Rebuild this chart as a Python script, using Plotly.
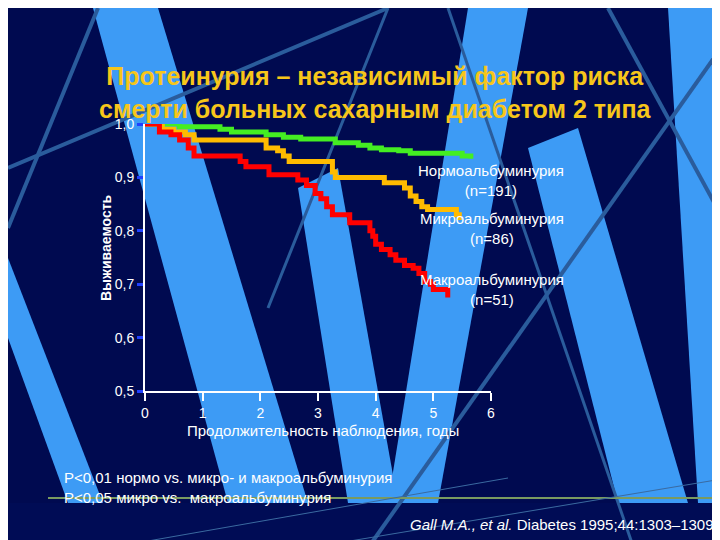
import plotly.graph_objects as go

# Kaplan-Meier curves
norm_x = [0, 0.45, 0.6, 1.15, 1.3, 1.5, 2.1, 2.4, 2.7, 3.3, 3.7, 3.9, 4.1, 4.4, 4.6, 5.3, 5.5, 5.65]
norm_y = [1.0, 1.0, 0.995, 0.995, 0.99, 0.985, 0.98, 0.975, 0.972, 0.965, 0.96, 0.955, 0.952, 0.95, 0.945, 0.945, 0.94, 0.935]

micro_x = [0, 0.25, 0.3, 0.5, 0.7, 0.85, 2.05, 2.1, 2.3, 2.4, 2.5, 3.2, 3.25, 3.3, 4.1, 4.15, 4.45, 4.5, 4.6, 4.7, 4.8, 4.9, 5.35, 5.4, 5.45]
micro_y = [1.0, 1.0, 0.99, 0.985, 0.98, 0.97, 0.97, 0.955, 0.95, 0.94, 0.93, 0.93, 0.91, 0.9, 0.9, 0.89, 0.89, 0.88, 0.865, 0.855, 0.845, 0.84, 0.84, 0.83, 0.82]

macro_x = [0, 0.2, 0.25, 0.45, 0.6, 0.75, 0.85, 1.6, 1.65, 1.75, 2.1, 2.15, 2.6, 2.65, 2.8, 2.95, 3.05, 3.15, 3.25, 3.5, 3.55,
           3.85, 3.9, 3.95, 4.0, 4.1, 4.25, 4.35, 4.5, 4.65, 4.75, 4.85, 4.95, 5.0, 5.2, 5.25]
macro_y = [1.0, 1.0, 0.985, 0.98, 0.97, 0.955, 0.94, 0.94, 0.93, 0.92, 0.92, 0.905, 0.905, 0.895, 0.885, 0.87, 0.86, 0.845, 0.83, 0.83, 0.815,
           0.815, 0.8, 0.79, 0.775, 0.765, 0.755, 0.745, 0.735, 0.73, 0.72, 0.705, 0.7, 0.69, 0.69, 0.675]

y_ticks = [0.5, 0.6, 0.7, 0.8, 0.9, 1.0]
y_labels = ["0,5", "0,6", "0,7", "0,8", "0,9", "1,0"]
x_ticks = [0, 1, 2, 3, 4, 5, 6]

series_labels = ["Нормоальбуминурия<br>(n=191)", "Микроальбуминурия<br>(n=86)", "Макроальбуминурия<br>(n=51)"]

W, H = 720, 540
L, R, T, B = 137, 237, 116, 157


def px(x, y):
    # pixel -> paper coords for layout
    return (x - L) / (W - L - R), 1 - (y - T) / (H - T - B)


def poly(pts, color):
    p = [px(a, b) for a, b in pts]
    path = "M " + " L ".join(f"{a},{b}" for a, b in p) + " Z"
    return dict(type="path", path=path, xref="paper", yref="paper", fillcolor=color,
                line=dict(width=0), layer="below")


def seg(x0, y0, x1, y1, color, w):
    a, b = px(x0, y0)
    c, d = px(x1, y1)
    return dict(type="line", x0=a, y0=b, x1=c, y1=d, xref="paper", yref="paper",
                line=dict(color=color, width=w), layer="below")


def note(x, y, text, size=15, **kw):
    a, b = px(x, y)
    d = dict(x=a, y=b, xref="paper", yref="paper", text=text, showarrow=False,
             font=dict(color=kw.pop("color", "white"), size=size, family="Liberation Sans"))
    d.update(kw)
    return d


light = "#3d9bf5"
shapes = [
    poly([(85, 0), (150, 0), (300, 495), (220, 495)], light),
    poly([(460, 0), (520, 0), (430, 495), (380, 495)], light),
    poly([(660, 0), (720, 0), (720, 495), (690, 495)], light),
    poly([(520, 140), (570, 120), (680, 495), (610, 495)], light),
    poly([(0, 330), (0, 250), (95, 495), (60, 495)], light),
    poly([(290, 180), (330, 160), (390, 495), (340, 495)], light),
    poly([(0, 495), (720, 495), (720, 540), (0, 540)], "#000c55"),
    seg(0, 160, 380, 0, "#2a5c9c", 4),
    seg(90, 0, 0, 220, "#2a5c9c", 4),
    seg(440, 0, 660, 640, "#2a5c9c", 3),
    seg(720, 30, 360, 540, "#2a5c9c", 4),
    seg(600, 0, 720, 220, "#2a5c9c", 4),
    seg(380, 0, 260, 300, "#2a5c9c", 3),
    seg(40, 490, 720, 490, "#7a9a60", 2),
    seg(100, 540, 500, 470, "#3a6aa0", 1),
    seg(300, 540, 720, 470, "#3a6aa0", 1),
]

fig = go.Figure()
for xs, ys, col in [(norm_x, norm_y, "#44ee22"), (micro_x, micro_y, "#ffbb00"), (macro_x, macro_y, "#ff0000")]:
    fig.add_trace(go.Scatter(x=xs, y=ys, mode="lines", line=dict(color=col, width=5, shape="hv"),
                             showlegend=False, hoverinfo="skip"))

annotations = [note(558, py, t) for t, py in zip(series_labels, [152, 220, 302])]
annotations += [
    note(367, 52, "<b>Протеинурия – независимый фактор риска<br>смерти больных сахарным диабетом 2 типа</b>",
         size=25, color="#f7c61a"),
    note(88, 240, "<b>Выживаемость</b>", size=14, textangle=-90),
    note(315, 433, "Продолжительность наблюдения, годы", size=15),
    note(54, 459, "P<0,01 нормо vs. микро- и макроальбуминурия<br>P<0,05 микро vs.  макроальбуминурия",
         size=15, xanchor="left", yanchor="top", align="left"),
    note(712, 527, "<i>Gall M.A., et al.</i> Diabetes 1995;44:1303–1309.", size=15, xanchor="right"),
]

fig.update_layout(
    width=W, height=H, margin=dict(l=L, r=R, t=T, b=B),
    paper_bgcolor="#000a50", plot_bgcolor="rgba(0,0,0,0)",
    shapes=shapes, annotations=annotations,
    xaxis=dict(range=[0, 6], tickvals=x_ticks, showgrid=False, zeroline=False, showline=True,
               linecolor="white", linewidth=2, ticks="outside", tickcolor="white", ticklen=8, tickwidth=2,
               tickfont=dict(color="white", size=14, family="Liberation Sans"), fixedrange=True),
    yaxis=dict(range=[0.5, 1.0], tickvals=y_ticks, ticktext=y_labels, showgrid=False, zeroline=False,
               showline=True, linecolor="white", linewidth=2, ticks="outside", tickcolor="#2040ff",
               ticklen=6, tickwidth=3, tickfont=dict(color="white", size=14, family="Liberation Sans"),
               fixedrange=True),
)

fig.write_html("out.html")
